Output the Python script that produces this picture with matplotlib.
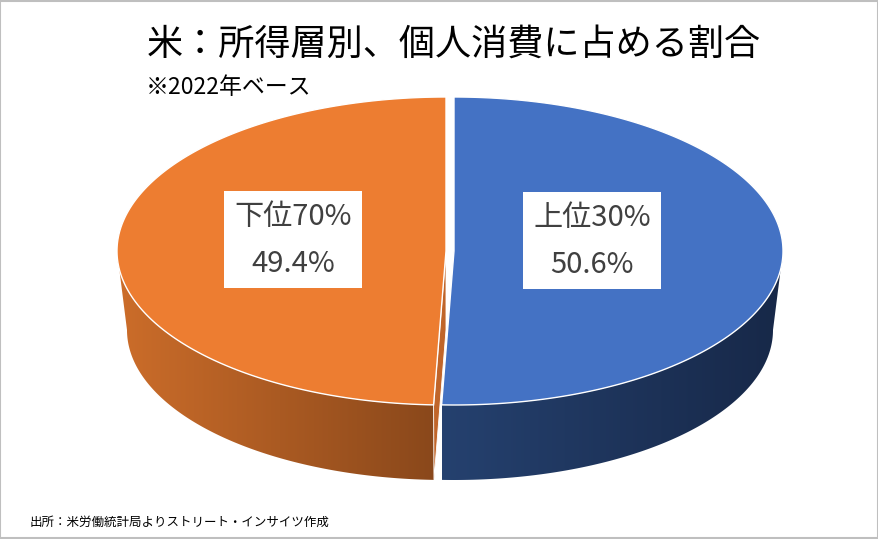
import numpy as np
import matplotlib.pyplot as plt
from matplotlib.patches import Polygon, Rectangle
from matplotlib.colors import to_rgb

plt.switch_backend('Agg')
plt.rcParams['font.family'] = ['Noto Sans CJK JP', 'DejaVu Sans']

# data
labels = ['上位30%', '下位70%']
shares = [50.6, 49.4]
top_colors = ['#4472C4', '#ED7D31']
# side gradient colours (left edge, right edge)
side_colors = [('#25416f', '#172848'), ('#cc6d2a', '#8a481b')]

title = '米：所得層別、個人消費に占める割合'
note = '※2022年ベース'
source = '出所：米労働統計局よりストリート・インサイツ作成'

W, H = 879, 539
fig = plt.figure(figsize=(W / 100, H / 100), dpi=100)
ax = fig.add_axes([0, 0, 1, 1])
ax.set_xlim(0, W)
ax.set_ylim(H, 0)
ax.axis('off')

# pie geometry (pixels)
cy_top, cy_bot = 251, 330
a_top, b_top = 329, 154
a_bot, b_bot = 319, 150
centers_x = [454, 446]
label_xy = [(592, 241), (293, 240)]


def rim(cx, t, top=True):
    t = np.radians(np.atleast_1d(t))
    if top:
        return np.column_stack([cx + a_top * np.sin(t), cy_top - b_top * np.cos(t)])
    return np.column_stack([cx + a_bot * np.sin(t), cy_bot - b_bot * np.cos(t)])


def gradient_fill(pts, c_left, c_right):
    x0, x1 = pts[:, 0].min(), pts[:, 0].max()
    y0, y1 = pts[:, 1].min(), pts[:, 1].max()
    f = np.linspace(0, 1, 256)[None, :, None]
    c1, c2 = np.array(to_rgb(c_left)), np.array(to_rgb(c_right))
    img = np.repeat(c1 + (c2 - c1) * f, 2, axis=0)
    poly = Polygon(pts, closed=True, facecolor='none', edgecolor='none')
    ax.add_patch(poly)
    im = ax.imshow(img, extent=(x0, x1, y1, y0), aspect='auto', interpolation='bilinear', zorder=1)
    im.set_clip_path(poly)
    ax.set_xlim(0, W)
    ax.set_ylim(H, 0)


# angles clockwise from 12 o'clock
bounds = np.concatenate([[0], np.cumsum(shares) / sum(shares) * 360])


def draw_side(i, t0, t1):
    cx = centers_x[i]
    ts = np.linspace(t0, t1, 200)
    pts = np.vstack([rim(cx, ts), rim(cx, ts[::-1], top=False)])
    gradient_fill(pts, *side_colors[i])


def draw_top(i, t0, t1):
    cx = centers_x[i]
    arc = rim(cx, np.linspace(t0, t1, 300))
    pts = np.vstack([[cx, cy_top], arc])
    ax.add_patch(Polygon(pts, closed=True, facecolor=top_colors[i], edgecolor='white',
                         lw=1.0, zorder=3))


# lower 70% slice (orange)
o0, o1 = bounds[1], bounds[2]
cxo = centers_x[1]
face = np.vstack([[cxo, cy_top], rim(cxo, o0), rim(cxo, o0, top=False), [cxo, cy_bot]])
ax.add_patch(Polygon(face, closed=True, facecolor='#c0652a', edgecolor='white', lw=0.6, zorder=2))
draw_side(1, o0, 270)
draw_top(1, o0, o1)

# top 30% slice (blue)
b0, b1 = bounds[0], bounds[1]
draw_side(0, 90, b1)
draw_top(0, b0, b1)

# data labels
for (x, y), lab, v in zip(label_xy, labels, shares):
    ax.add_patch(Rectangle((x - 69, y - 49), 138, 97, facecolor='white', edgecolor='none', zorder=4))
    ax.text(x, y - 23, lab, ha='center', va='center', fontsize=21, color='#404040', zorder=5)
    ax.text(x, y + 24, f'{v:.1f}%', ha='center', va='center', fontsize=21, color='#404040', zorder=5)

ax.text(454, 45, title, ha='center', va='center', fontsize=26, color='black')
ax.text(146, 88, note, ha='left', va='center', fontsize=16.5, color='black')
ax.text(30, 522, source, ha='left', va='center', fontsize=9, color='black')

ax.add_patch(Rectangle((0.5, 0.5), W - 1.5, H - 1.5, facecolor='none', edgecolor='#bfbfbf',
                       lw=1.5, zorder=6))

fig.savefig('out.png', dpi=100)
